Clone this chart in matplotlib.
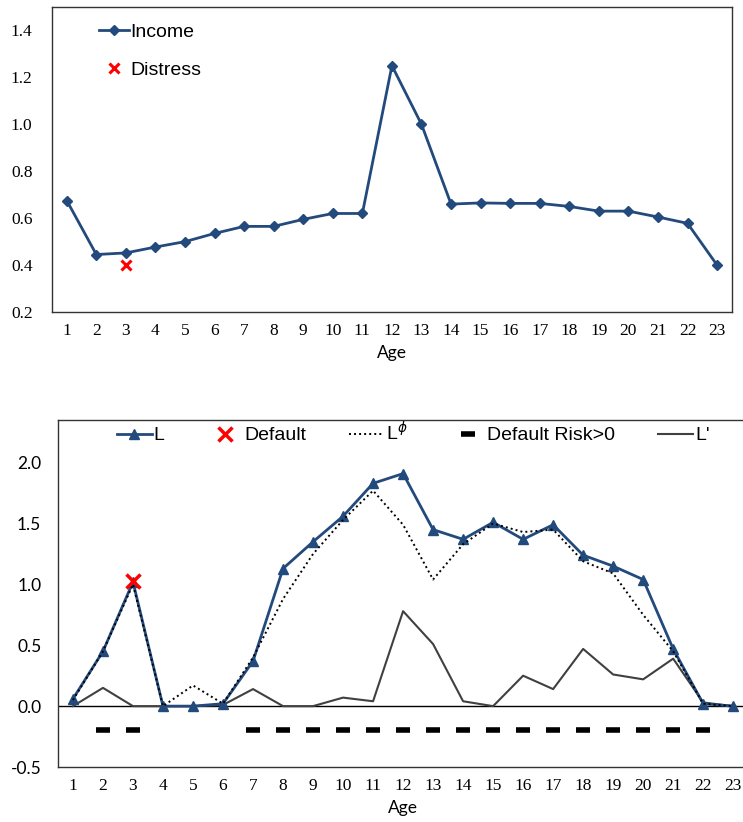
import matplotlib
matplotlib.use('Agg')
import matplotlib.pyplot as plt

ages = list(range(1, 24))

income = [0.675, 0.445, 0.452, 0.477, 0.50, 0.535, 0.565, 0.565, 0.595, 0.62, 0.62, 1.25,
          1.0, 0.66, 0.665, 0.663, 0.663, 0.65, 0.63, 0.63, 0.605, 0.578, 0.40]
distress_age = [3]
distress_val = [0.40]

L = [0.06, 0.45, 1.02, 0.0, 0.0, 0.02, 0.37, 1.13, 1.35, 1.56, 1.83, 1.91,
     1.45, 1.37, 1.51, 1.37, 1.49, 1.24, 1.15, 1.04, 0.47, 0.02, 0.0]
L_phi = [0.05, 0.45, 1.0, 0.0, 0.17, 0.02, 0.40, 0.88, 1.25, 1.53, 1.77, 1.49,
         1.04, 1.33, 1.50, 1.43, 1.45, 1.19, 1.09, 0.75, 0.45, 0.02, 0.0]
L_prime = [0.0, 0.15, 0.0, 0.0, 0.0, 0.01, 0.14, 0.0, 0.0, 0.07, 0.04, 0.78,
           0.51, 0.04, 0.0, 0.25, 0.14, 0.47, 0.26, 0.22, 0.39, 0.03, 0.0]
default_age = [3]
default_val = [1.03]
risk_ages = [2, 3, 7, 8, 9, 10, 11, 12, 13, 14, 15, 16, 17, 18, 19, 20, 21, 22]
risk_val = [-0.2] * len(risk_ages)

top_ticks = [0.2, 0.4, 0.6, 0.8, 1.0, 1.2, 1.4]
bot_ticks = [-0.5, 0.0, 0.5, 1.0, 1.5, 2.0]

BLUE = '#234a7c'
GRAY = '#404040'
SERIF = 'Liberation Serif'
SANS = 'Liberation Sans'
LABEL = 'Lato'

fig = plt.figure(figsize=(7.43, 8.22), dpi=100)

# ---- top panel: income
ax1 = fig.add_axes([0.070, 0.6204, 0.915, 0.3711])
ax1.plot(ages, income, color=BLUE, lw=2, marker='D', ms=5.5, label='Income')
ax1.plot(distress_age, distress_val, ls='none', marker='x', color='red', ms=7, mew=2.2, label='Distress')
ax1.set_xlim(0.5, 23.5)
ax1.set_ylim(0.2, 1.5)
ax1.set_xticks(ages)
ax1.set_xticklabels([str(a) for a in ages], fontfamily=SERIF, fontsize=12.5)
ax1.set_yticks(top_ticks)
ax1.set_yticklabels(['%.1f' % t for t in top_ticks], fontfamily=SERIF, fontsize=12.5)
ax1.tick_params(length=0, pad=8)
ax1.tick_params(axis='y', pad=14)
ax1.set_xlabel('Age', fontfamily=LABEL, fontsize=12.5, labelpad=4)
for s in ax1.spines.values():
    s.set_color('#333333')
    s.set_linewidth(1.0)
ax1.legend(loc='upper left', bbox_to_anchor=(0.044, 1.005), frameon=False,
           prop={'family': SANS, 'size': 14}, labelspacing=1.05,
           handlelength=1.5, handletextpad=0.1)

# ---- bottom panel: L series
ax2 = fig.add_axes([0.078, 0.0669, 0.929, 0.4221])
ax2.axhline(0, color='black', lw=1.0, zorder=1)
ax2.plot(ages, L, color=BLUE, lw=2, marker='^', ms=7, label='L', zorder=3)
ax2.plot(default_age, default_val, ls='none', marker='x', color='red', ms=10, mew=2.5,
         label='Default', zorder=5)
ax2.plot(ages, L_phi, color='black', lw=1.4, ls=(0, (1, 1.6)), label=r'L$^{\phi}$', zorder=4)
ax2.plot(risk_ages, risk_val, ls='none', marker='_', color='black', ms=10, mew=4,
         label='Default Risk>0')
ax2.plot(ages, L_prime, color=GRAY, lw=1.5, label="L'", zorder=2)
ax2.set_xlim(0.5, 23.5)
ax2.set_ylim(-0.5, 2.35)
ax2.set_xticks(ages)
ax2.set_xticklabels([str(a) for a in ages], fontfamily=SERIF, fontsize=12.5)
ax2.set_yticks(bot_ticks)
ax2.set_yticklabels(['%.1f' % t for t in bot_ticks], fontfamily=LABEL, fontsize=12.5)
ax2.tick_params(length=0, pad=8)
ax2.tick_params(axis='y', pad=12)
ax2.set_xlabel('Age', fontfamily=LABEL, fontsize=12.5, labelpad=4)
ax2.spines['right'].set_visible(False)
for s in ['left', 'top', 'bottom']:
    ax2.spines[s].set_color('#333333')
    ax2.spines[s].set_linewidth(1.0)
ax2.legend(loc='upper left', bbox_to_anchor=(0.06, 1.047), ncol=5, frameon=False,
           prop={'family': SANS, 'size': 14}, columnspacing=2.2,
           handlelength=1.8, handletextpad=0.1)

fig.savefig('out.png', dpi=100)
